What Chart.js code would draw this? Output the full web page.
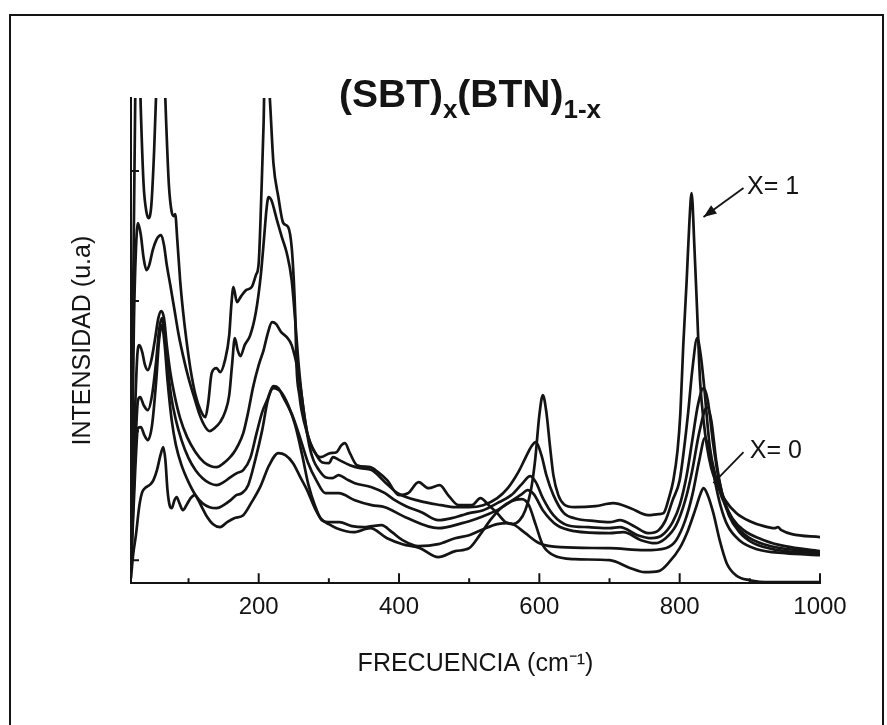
<!DOCTYPE html>
<html>
<head>
<meta charset="utf-8">
<script src="https://cdn.jsdelivr.net/npm/chart.js@4.4.1/dist/chart.umd.min.js"></script>
<style>
  html, body { margin: 0; padding: 0; background: #fff; }
  canvas { display: block; }
</style>
</head>
<body>
<canvas id="c" width="887" height="725"></canvas>
<script>
// Raman spectra of (SBT)x(BTN)1-x, pairs of [frequency cm-1, intensity a.u.]
const curveX1 = [[18,23],[21,283],[24,483],[27,553],[29,553],[32,473],[36,398],[40,371],[43,365],[47,378],[51,433],[55,513],[58,563],[62,563],[65,523],[68,463],[72,398],[76,371],[79,367],[81,369],[84,343],[88,303],[92,273],[97,243],[103,213],[110,188],[117,173],[124,166],[128,180],[133,210],[140,215],[145,211],[152,223],[158,248],[161,278],[164,296],[169,281],[175,287],[182,293],[190,296],[196,308],[200,320],[204,393],[207,460],[209,523],[212,523],[216,483],[221,420],[228,386],[235,360],[242,356],[247,336],[250,303],[252,270],[254,216],[258,188],[261,173],[269,150],[278,133],[288,126],[302,130],[311,131],[318,138],[323,140],[330,130],[340,118],[359,116],[370,111],[383,103],[400,88],[413,90],[428,101],[442,95],[458,98],[470,88],[485,78],[504,78],[516,85],[528,78],[540,70],[552,61],[562,59],[572,63],[580,73],[588,93],[594,123],[600,168],[605,188],[610,171],[615,138],[620,108],[627,88],[635,79],[650,76],[680,77],[705,80],[730,75],[755,68],[770,69],[777,70],[785,86],[791,103],[797,133],[801,170],[805,236],[810,303],[814,363],[817,390],[821,336],[825,270],[829,203],[834,163],[839,136],[845,115],[851,103],[865,83],[881,70],[900,62],[920,57],[935,55],[940,56],[945,53],[960,49],[1000,46]];
const curve2 = [[18,23],[22,253],[25,333],[28,360],[32,348],[36,325],[40,313],[44,318],[49,333],[54,343],[58,347],[61,348],[65,338],[69,318],[74,298],[80,273],[86,248],[92,228],[100,205],[108,186],[116,168],[124,156],[130,152],[137,155],[145,161],[152,171],[158,188],[162,218],[166,245],[170,233],[174,227],[180,238],[188,248],[196,271],[203,308],[208,348],[211,373],[214,386],[218,383],[226,363],[233,346],[240,330],[247,303],[252,263],[257,218],[263,178],[270,148],[280,131],[290,121],[300,120],[306,126],[315,123],[330,118],[345,115],[361,113],[380,101],[398,90],[430,82],[460,78],[480,76],[500,76],[520,78],[540,85],[555,95],[570,111],[580,125],[588,136],[595,141],[603,128],[610,108],[620,88],[635,70],[650,65],[680,62],[700,61],[715,63],[735,57],[755,50],[770,53],[780,63],[790,83],[800,103],[806,133],[812,170],[818,213],[825,245],[830,228],[834,203],[843,136],[852,105],[860,86],[875,65],[891,53],[920,43],[950,37],[1000,32]];
const curve3 = [[18,18],[23,153],[27,228],[30,238],[34,231],[38,218],[42,213],[47,223],[52,243],[57,265],[61,272],[65,265],[69,238],[74,211],[80,188],[88,165],[98,146],[110,131],[122,121],[132,117],[140,116],[150,120],[158,125],[164,130],[170,137],[178,150],[185,171],[192,196],[200,218],[207,233],[213,250],[219,261],[225,259],[232,251],[240,246],[247,238],[257,208],[266,163],[272,138],[278,123],[286,113],[295,106],[305,105],[314,108],[325,104],[337,100],[361,96],[380,90],[394,83],[410,77],[432,71],[456,63],[475,65],[490,68],[500,70],[520,73],[540,80],[560,88],[575,99],[587,107],[595,101],[605,85],[620,68],[640,58],[670,56],[700,55],[715,56],[740,48],[760,45],[775,48],[790,61],[800,78],[810,108],[818,143],[826,178],[834,195],[840,183],[848,138],[856,103],[866,78],[880,58],[900,45],[930,37],[1000,31]];
const curve4 = [[18,15],[24,133],[28,183],[31,186],[36,178],[42,173],[48,188],[54,223],[58,253],[62,265],[66,248],[70,218],[75,188],[82,163],[90,143],[100,125],[110,113],[120,105],[130,100],[140,98],[150,101],[160,106],[169,110],[178,113],[188,125],[197,150],[205,171],[212,183],[221,197],[228,195],[235,186],[249,166],[260,143],[270,121],[282,103],[295,90],[314,90],[337,83],[361,78],[380,76],[409,66],[456,55],[490,60],[500,62],[520,67],[540,73],[560,82],[575,89],[583,93],[592,89],[605,73],[625,58],[650,52],[700,50],[720,51],[745,43],[765,40],[780,45],[795,58],[808,83],[818,113],[828,151],[839,176],[845,163],[852,123],[860,91],[870,68],[885,51],[905,40],[940,33],[1000,30]];
const curve5 = [[18,13],[24,113],[28,155],[32,156],[37,148],[42,143],[48,158],[54,203],[58,243],[62,258],[66,238],[70,203],[76,163],[82,138],[90,118],[100,101],[110,88],[120,80],[130,76],[140,75],[150,78],[160,83],[168,88],[176,90],[185,98],[195,123],[205,153],[213,183],[221,195],[232,191],[242,178],[252,158],[262,128],[271,98],[280,78],[290,63],[300,61],[315,61],[333,57],[350,56],[361,57],[375,58],[390,51],[405,43],[428,37],[456,39],[480,45],[500,48],[520,54],[540,59],[555,60],[565,58],[580,50],[600,40],[630,36],[700,35],[750,33],[780,35],[795,43],[808,63],[818,88],[828,123],[836,145],[842,133],[850,103],[858,78],[868,58],[885,43],[910,34],[950,30],[1000,28]];
const curveX0 = [[18,5],[21,28],[25,48],[30,78],[34,91],[38,95],[42,97],[46,99],[50,103],[55,113],[60,128],[64,136],[67,123],[70,93],[73,78],[76,75],[80,83],[83,86],[87,80],[92,73],[97,78],[103,85],[109,88],[114,83],[119,76],[125,68],[135,59],[145,56],[155,61],[165,65],[178,68],[190,81],[202,96],[215,118],[228,130],[238,128],[249,120],[260,105],[269,93],[280,75],[288,65],[300,59],[311,55],[335,51],[359,55],[383,45],[405,39],[430,35],[456,26],[480,32],[500,35],[515,48],[530,63],[545,75],[560,82],[575,84],[585,78],[595,58],[605,38],[620,28],[650,24],[700,23],[730,15],[750,11],[770,12],[785,21],[800,35],[812,53],[822,73],[830,90],[834,95],[840,88],[848,70],[857,43],[867,20],[880,8],[900,3],[930,1],[1000,1]];

const curves = [curveX1, curve2, curve3, curve4, curve5, curveX0];
const xLabels = [200, 400, 600, 800, 1000];
const xMinor = [100, 300, 500, 700, 900];
const yTicks = [23, 152, 282, 412];

const FONT = 'Liberation Sans, Arial, Helvetica, sans-serif';
const INK = '#141414';

// labels that sit on the plot, in data coordinates
const notes = [
  { text: 'X= 1', at: [896, 396], from: [891, 395], to: [834, 366], arrow: true },
  { text: 'X= 0', at: [900, 132], from: [891, 131], to: [848, 100], arrow: false }
];

const decor = {
  id: 'decor',
  beforeDraw(chart) {
    const c = chart.ctx;
    c.save();
    c.fillStyle = '#fff';
    c.fillRect(0, 0, chart.width, chart.height);
    c.strokeStyle = INK;
    c.lineWidth = 2;
    c.strokeRect(10, 15, 873, 740);
    c.restore();
  },
  afterDraw(chart) {
    const c = chart.ctx, xs = chart.scales.x, ys = chart.scales.y, a = chart.chartArea;
    c.save();
    c.strokeStyle = INK;
    c.fillStyle = INK;
    c.lineWidth = 2;
    c.beginPath();
    xLabels.forEach(v => { const p = xs.getPixelForValue(v); c.moveTo(p, a.bottom); c.lineTo(p, a.bottom - 10); });
    xMinor.forEach(v => { const p = xs.getPixelForValue(v); c.moveTo(p, a.bottom); c.lineTo(p, a.bottom - 5); });
    yTicks.forEach(v => { const p = ys.getPixelForValue(v); c.moveTo(a.left, p); c.lineTo(a.left + 8, p); });
    c.stroke();

    // annotations
    c.font = '25px ' + FONT;
    c.textBaseline = 'middle';
    notes.forEach(n => {
      const x0 = xs.getPixelForValue(n.from[0]), y0 = ys.getPixelForValue(n.from[1]);
      const x1 = xs.getPixelForValue(n.to[0]), y1 = ys.getPixelForValue(n.to[1]);
      c.lineWidth = 1.8;
      c.beginPath(); c.moveTo(x0, y0); c.lineTo(x1, y1); c.stroke();
      if (n.arrow) {
        const ang = Math.atan2(y1 - y0, x1 - x0), L = 13, W = 5;
        c.beginPath();
        c.moveTo(x1, y1);
        c.lineTo(x1 - L * Math.cos(ang) + W * Math.sin(ang), y1 - L * Math.sin(ang) - W * Math.cos(ang));
        c.lineTo(x1 - L * Math.cos(ang) - W * Math.sin(ang), y1 - L * Math.sin(ang) + W * Math.cos(ang));
        c.closePath(); c.fill();
      }
      c.fillText(n.text, xs.getPixelForValue(n.at[0]), ys.getPixelForValue(n.at[1]));
    });

    // title with subscripts
    const parts = [['(SBT)', false], ['x', true], ['(BTN)', false], ['1-x', true]];
    const fMain = 'bold 39px ' + FONT, fSub = 'bold 26px ' + FONT;
    let w = 0;
    parts.forEach(p => { c.font = p[1] ? fSub : fMain; w += c.measureText(p[0]).width; });
    let x = 470 - w / 2;
    c.textBaseline = 'alphabetic';
    parts.forEach(p => {
      c.font = p[1] ? fSub : fMain;
      c.fillText(p[0], x, p[1] ? 118 : 107);
      x += c.measureText(p[0]).width;
    });
    c.restore();
  }
};

new Chart(document.getElementById('c'), {
  type: 'line',
  data: {
    datasets: curves.map(pts => ({
      data: pts.map(p => ({ x: p[0], y: p[1] })),
      borderColor: INK,
      borderWidth: 2.7,
      pointRadius: 0,
      fill: false,
      cubicInterpolationMode: 'monotone'
    }))
  },
  options: {
    responsive: false,
    animation: false,
    layout: { padding: { left: 60, right: 67, top: 98, bottom: 46 } },
    plugins: { legend: { display: false }, tooltip: { enabled: false } },
    scales: {
      x: {
        type: 'linear', min: 18, max: 1000,
        afterBuildTicks: s => { s.ticks = xLabels.map(v => ({ value: v })); },
        grid: { display: false, drawTicks: false, tickLength: 0 },
        border: { display: true, color: INK, width: 2 },
        ticks: { color: INK, font: { family: FONT, size: 24 }, padding: 10, maxRotation: 0, autoSkip: false, callback: v => String(v) },
        title: { display: true, text: 'FRECUENCIA (cm⁻¹)', color: INK, font: { family: FONT, size: 25 }, padding: { top: 17, bottom: 0 } }
      },
      y: {
        type: 'linear', min: 0, max: 485,
        grid: { display: false, drawTicks: false, tickLength: 0 },
        border: { display: true, color: INK, width: 2 },
        ticks: { display: false },
        title: { display: true, text: 'INTENSIDAD (u.a)', color: INK, font: { family: FONT, size: 25 }, padding: { top: 8, bottom: 33 } }
      }
    }
  },
  plugins: [decor]
});
</script>
</body>
</html>
